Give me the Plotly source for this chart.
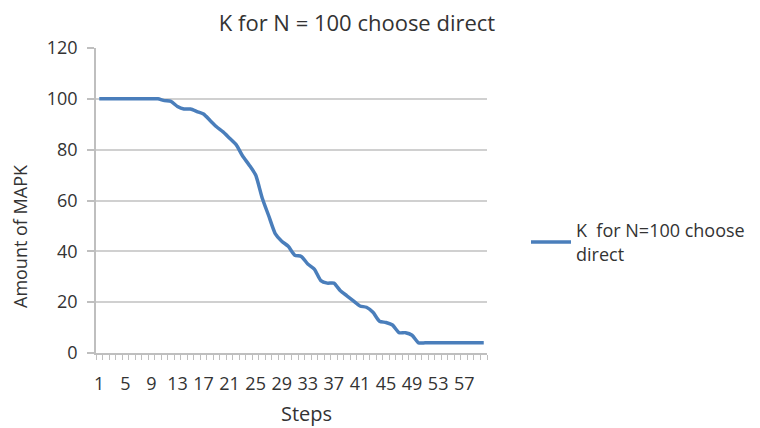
import plotly.graph_objects as go

steps = list(range(1, 61))
mapk = [100, 100, 100, 100, 100, 100, 100, 100, 100, 100,
        99.3, 99, 97, 96, 96, 95, 94, 91.5, 89, 87,
        84.5, 82, 77.5, 74, 70, 61, 54, 47, 44, 42,
        38.5, 38, 35, 33, 28.5, 27.5, 27.5, 24.5, 22.5, 20.5,
        18.5, 18, 16, 12.5, 12, 11, 8, 8, 7, 4,
        4, 4, 4, 4, 4, 4, 4, 4, 4, 4]
xtick_labels = [str(v) for v in range(1, 58, 4)]
series_name = "K  for N=100 choose<br>direct"
title_text = "K for N = 100 choose direct"

FONT = "Open Sans"
GRAY = "#BFBFBF"
TXT = "#333333"
OFF = 8  # page body margin

W, H = 760 - OFF, 428 - OFF
L, T, R, B = 96 - OFF, 48 - OFF, 273, 75
PW, PH = W - L - R, H - T - B

def px(xp):
    return (xp - 96) / PW

def py(yp):
    return (353 - yp) / PH

fig = go.Figure()
fig.add_trace(go.Scatter(
    x=steps, y=mapk, mode="lines", name=series_name,
    line=dict(color="#4A7EBB", width=3.5, shape="spline", smoothing=0.6),
))

fig.update_layout(
    width=W, height=H,
    margin=dict(l=L, r=R, t=T, b=B, autoexpand=False),
    paper_bgcolor="white", plot_bgcolor="white",
    font=dict(family=FONT, color=TXT, size=15),
    showlegend=True,
    legend=dict(x=px(526), y=py(242), xanchor="left", yanchor="middle",
                font=dict(family=FONT, size=18, color=TXT),
                bgcolor="rgba(0,0,0,0)", tracegroupgap=0, itemwidth=40),
    title=dict(text=title_text, x=(357 - OFF) / W, xref="container", xanchor="center",
               y=1 - (23 - OFF) / H, yref="container", yanchor="middle",
               font=dict(family=FONT, size=22, color=TXT)),
)

fig.update_xaxes(
    range=[0.5, 60.5], tickmode="array", tickvals=[int(t) for t in xtick_labels],
    ticktext=xtick_labels, ticks="", showgrid=False, zeroline=False,
    showline=True, linecolor=GRAY, linewidth=1.5, ticklabelstandoff=14,
    tickfont=dict(family=FONT, size=18, color=TXT),
    minor=dict(ticks="outside", tick0=0.5, dtick=1, ticklen=5, tickcolor=GRAY, tickwidth=1, showgrid=False),
)
fig.update_yaxes(
    range=[0, 120], dtick=20, ticks="outside", ticklen=7, tickcolor=GRAY, tickwidth=1.5,
    showgrid=True, gridcolor="#D0D0D0", gridwidth=1.5, zeroline=False,
    showline=True, linecolor=GRAY, linewidth=1.5, ticklabelstandoff=6,
    tickfont=dict(family=FONT, size=18, color=TXT),
)

fig.add_annotation(text="Amount of MAPK", textangle=-90, xref="paper", yref="paper",
                   x=px(20), y=py(236), xanchor="center", yanchor="middle", showarrow=False,
                   font=dict(family=FONT, size=18, color=TXT))
fig.add_annotation(text="Steps", xref="paper", yref="paper",
                   x=px(306), y=py(413), xanchor="center", yanchor="middle", showarrow=False,
                   font=dict(family=FONT, size=20, color=TXT))

fig.write_html("out.html")
